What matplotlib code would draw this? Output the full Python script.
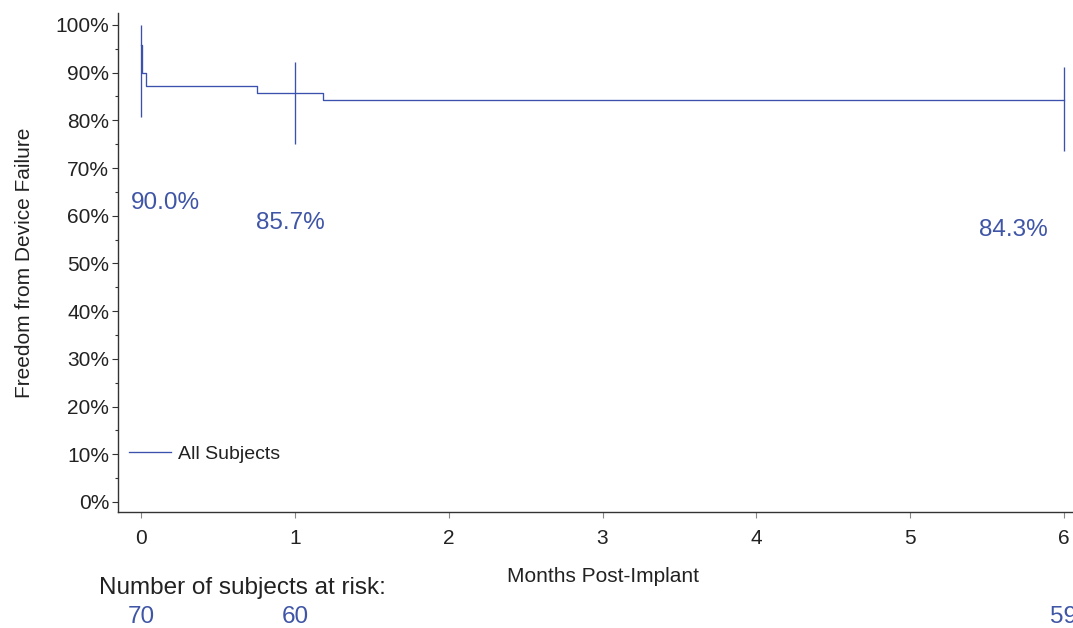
import matplotlib
matplotlib.use("Agg")
import matplotlib.pyplot as plt
from matplotlib.ticker import MultipleLocator, FuncFormatter
from matplotlib.transforms import blended_transform_factory

plt.rcParams['font.family'] = ['Liberation Sans', 'DejaVu Sans']

# Kaplan-Meier estimate (months, % free from failure)
km_time = [0.0, 0.005, 0.033, 0.754, 1.18, 6.0]
km_surv = [95.7, 90.0, 87.1, 85.7, 84.3, 84.3]

# confidence bars at the reported time points
ci_time = [0, 1, 6]
ci_low = [80.8, 75.0, 73.6]
ci_high = [100.0, 92.2, 91.1]

est_labels = ["90.0%", "85.7%", "84.3%"]
est_values = [90.0, 85.7, 84.3]
label_x = [0.16, 0.97, 5.67]

risk_time = [0, 1, 6]
risk_n = [70, 60, 59]

line_col = "#3a51ad"
text_col = "#3f55a6"
axis_col = "#333333"

fig = plt.figure(figsize=(10.73, 6.28), dpi=100)
ax = fig.add_axes([0.110, 0.1847, 0.890, 0.7946])

ax.plot(km_time, km_surv, drawstyle="steps-post", color=line_col, lw=0.95,
        label="All Subjects")
ax.vlines(ci_time, ci_low, ci_high, color=line_col, lw=0.95)

for lx, val, txt in zip(label_x, est_values, est_labels):
    ax.text(lx, val - 27.3, txt, color=text_col, fontsize=17.5,
            ha="center", va="center")

ax.set_xlim(-0.15, 6.059)
ax.set_ylim(-2.1, 102.5)
ax.xaxis.set_major_locator(MultipleLocator(1))
ax.yaxis.set_major_locator(MultipleLocator(10))
ax.yaxis.set_minor_locator(MultipleLocator(5))
ax.yaxis.set_major_formatter(FuncFormatter(lambda v, p: f"{v:.0f}%"))

for s in ["top", "right"]:
    ax.spines[s].set_visible(False)
for s in ["left", "bottom"]:
    ax.spines[s].set_color(axis_col)
    ax.spines[s].set_linewidth(1.0)

ax.tick_params(axis="y", which="major", length=4, width=0.8, color=axis_col,
               labelsize=15, labelcolor="#222222", pad=2.5)
ax.tick_params(axis="y", which="minor", length=2.5, width=0.8, color=axis_col)
ax.tick_params(axis="x", which="major", length=4, width=0.8, color="#888888",
               labelsize=15, labelcolor="#222222", pad=8)

ax.set_ylabel("Freedom from Device Failure", fontsize=15, color="#222222",
              labelpad=15)

tr = blended_transform_factory(ax.transData, fig.transFigure)
ax.text(3, 1 - 577 / 628, "Months Post-Implant", transform=tr, fontsize=15,
        color="#222222", ha="center", va="center")

fig.text(99 / 1073, 1 - 588 / 628, "Number of subjects at risk:", fontsize=17.5,
         color="#222222", ha="left", va="center")
for t, n in zip(risk_time, risk_n):
    ax.text(t, 1 - 617 / 628, str(n), transform=tr, fontsize=17.5,
            color=text_col, ha="center", va="center", clip_on=False)

leg = ax.legend(loc="lower left", bbox_to_anchor=(-0.005, 0.067), frameon=False,
                fontsize=14, handlelength=2.15, handletextpad=0.4,
                borderaxespad=0.4)
for t in leg.get_texts():
    t.set_color("#222222")

fig.savefig("out.png", dpi=100)
